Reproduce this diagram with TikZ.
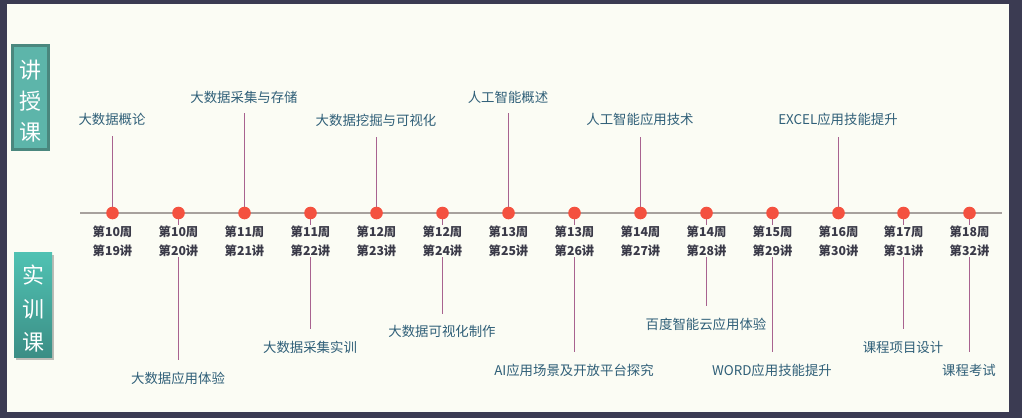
\documentclass[tikz,border=0pt]{standalone}
\usepackage{fontspec}
\setmainfont{Noto Sans CJK SC}
\usetikzlibrary{shadows}
\definecolor{bgdark}{HTML}{3B3B52}
\definecolor{bglight}{HTML}{FBFCF4}
\definecolor{axiscol}{HTML}{A7A19D}
\definecolor{dotred}{HTML}{F4513F}
\definecolor{stemcol}{HTML}{A8628F}
\definecolor{topiccol}{HTML}{2F5F78}
\definecolor{weekcol}{HTML}{3A3A48}
\definecolor{boxa}{HTML}{5DB5AA}
\definecolor{boxaedge}{HTML}{4A877E}
\definecolor{boxtop}{HTML}{50C2B3}
\definecolor{boxbot}{HTML}{3B8E85}
\begin{document}
\begin{tikzpicture}[x=1pt,y=-1pt,
  axisline/.style={draw=axiscol,line width=1.4pt},
  dotnode/.style={circle,fill=dotred,minimum size=12.6pt,inner sep=0pt},
  stemline/.style={draw=stemcol,line width=1.3pt},
  weeklabel/.style={fill=bglight,inner sep=1pt,align=center,text=weekcol,
    font=\fontsize{12.3}{19}\selectfont\bfseries},
  topiclabel/.style={inner sep=0pt,text=topiccol,font=\fontsize{13.4}{16}\selectfont},
  lecturebox/.style={fill=boxa,draw=boxaedge,line width=3pt,minimum width=36pt,
    minimum height=104pt,inner sep=0pt},
  practicebox/.style={top color=boxtop,bottom color=boxbot,minimum width=38pt,
    minimum height=105pt,inner sep=0pt,
    drop shadow={shadow xshift=2pt,shadow yshift=-3pt,fill=black,opacity=0.25}},
  boxtext/.style={inner sep=0pt,align=center,text=white},
]
\fill[bgdark] (0,0) rectangle (1022,418);
\fill[bglight] (7,4) rectangle (1009,412);
\useasboundingbox (0,0) rectangle (1022,418);

% side boxes
\node[lecturebox] (lecture) at (30.5,97.5) {};
\node[boxtext,font=\fontsize{22}{31}\selectfont] (lecturetext) at ([yshift=-4pt]lecture.center) {讲\\授\\课};
\node[practicebox] (practice) at (33,304.5) {};
\node[boxtext,font=\fontsize{22}{33.5}\selectfont] (practicetext) at ([yshift=-4.5pt]practice.center) {实\\训\\课};

% axis
\coordinate (axl) at (80,213);
\coordinate (axr) at (1002,213);
\draw[axisline] (axl) -- (axr);

% topics: index / x / text / label y / stem end y
\foreach \i/\xx/\t/\ly/\ey in {
  1/112/大数据概论/119/136,
  2/178/大数据应用体验/378/360,
  3/244/大数据采集与存储/97/113,
  4/310/大数据采集实训/347/329,
  5/376/大数据挖掘与可视化/120/137,
  6/442/大数据可视化制作/331/314,
  7/508/人工智能概述/97/113,
  8/574/AI应用场景及开放平台探究/370/352,
  9/640/人工智能应用技术/119/137,
  10/706/百度智能云应用体验/324/306,
  11/772/WORD应用技能提升/370/352,
  12/838/EXCEL应用技能提升/119/137,
  13/903/课程项目设计/347/329,
  14/969/课程考试/370/352}{
  \coordinate (d\i c) at (\xx+0.5,213);
  \coordinate (e\i) at (\xx+0.5,\ey);
  \node[topiclabel] (t\i) at (\xx,\ly) {\t};
  \draw[stemline] (d\i c) -- (e\i);
}

% dots and week labels
\foreach \i/\xx/\w/\l in {1/112/10/19,2/178/10/20,3/244/11/21,4/310/11/22,5/376/12/23,
  6/442/12/24,7/508/13/25,8/574/13/26,9/640/14/27,10/706/14/28,11/772/15/29,
  12/838/16/30,13/903/17/31,14/969/18/32}{
  \node[dotnode] (d\i) at (\xx+0.5,213) {};
  \node[weeklabel] (w\i) at (\xx+0.5,241) {第\w 周\\第\l 讲};
}
\end{tikzpicture}
\end{document}
